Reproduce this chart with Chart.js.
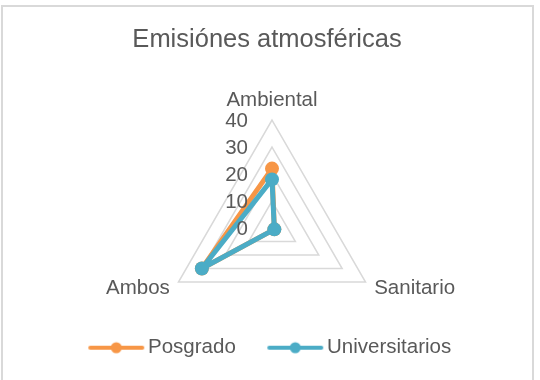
<!DOCTYPE html>
<html>
<head>
<meta charset="utf-8">
<script src="https://cdn.jsdelivr.net/npm/chart.js@4/dist/chart.umd.min.js"></script>
<style>
    body { margin: 0; background: #fff; }
    #frame { position: absolute; left: 1px; top: 5px; width: 529px; height: 400px; border: 2px solid #d9d9d9; }
    #radar-chart { position: absolute; left: 0; top: 0; }
</style>
</head>
<body>
<div id="frame"></div>
<canvas id="radar-chart" width="540" height="380"></canvas>
<script>
const axisLabels = ['Ambiental', 'Sanitario', 'Ambos'];
const posgrado = [22, 1, 30];
const universitarios = [18, 1, 30];
const tickValues = [0, 10, 20, 30, 40];

const textColor = '#595959';
const fontFamily = '"Liberation Sans", Arial, sans-serif';

Chart.defaults.font.family = fontFamily;
Chart.defaults.color = textColor;

// legend sample: a line with a dot, with empty room on the left as the gap between items
function makeSwatch(color) {
    const c = document.createElement('canvas');
    c.width = 100;
    c.height = 14;
    const g = c.getContext('2d');
    g.strokeStyle = color;
    g.lineWidth = 4;
    g.lineCap = 'round';
    g.beginPath();
    g.moveTo(43, 7);
    g.lineTo(95, 7);
    g.stroke();
    g.fillStyle = color;
    g.beginPath();
    g.arc(69, 7, 5.5, 0, Math.PI * 2);
    g.fill();
    return c;
}

// tick numbers left of the vertical axis and the category names at the corners
const axisText = {
    id: 'axisText',
    afterDatasetsDraw(chart) {
        const scale = chart.scales.r;
        const ctx = chart.ctx;
        ctx.save();
        ctx.fillStyle = textColor;
        ctx.font = '20.5px ' + fontFamily;
        ctx.textBaseline = 'middle';
        ctx.textAlign = 'right';
        scale.ticks.forEach(t => {
            const y = scale.yCenter - scale.getDistanceFromCenterForValue(t.value);
            ctx.fillText(String(t.value), scale.xCenter - 24, y + 1);
        });
        chart.data.labels.forEach((label, i) => {
            const p = scale.getPointPosition(i, scale.drawingArea + 10);
            const angle = scale.getIndexAngle(i);
            let y = p.y;
            if (angle === 0) {
                ctx.textAlign = 'center';
                y -= 10;
            } else if (angle < Math.PI) {
                ctx.textAlign = 'left';
                y += 1.5;
            } else {
                ctx.textAlign = 'right';
                y += 1.5;
            }
            ctx.fillText(label, p.x, y);
        });
        ctx.restore();
    }
};

// small horizontal nudges of title and legend
const nudge = {
    id: 'nudge',
    afterLayout(chart) {
        chart.titleBlock.left -= 5;
        chart.titleBlock.right -= 5;
        chart.legend.left -= 18;
        chart.legend.right -= 18;
    }
};

const ctx = document.getElementById('radar-chart').getContext('2d');

const radarChart = new Chart(ctx, {
    type: 'radar',
    data: {
        labels: axisLabels,
        datasets: [{
            label: 'Posgrado',
            data: posgrado,
            borderColor: '#F79646',
            backgroundColor: '#F79646',
            pointBackgroundColor: '#F79646',
            borderWidth: 5,
            borderJoinStyle: 'round',
            pointRadius: 7,
            pointBorderWidth: 0,
            fill: false,
            order: 1
        }, {
            label: 'Universitarios',
            data: universitarios,
            borderColor: '#4BACC6',
            backgroundColor: '#4BACC6',
            pointBackgroundColor: '#4BACC6',
            borderWidth: 5,
            borderJoinStyle: 'round',
            pointRadius: 7,
            pointBorderWidth: 0,
            fill: false,
            order: 0
        }]
    },
    options: {
        responsive: false,
        animation: false,
        events: [],
        layout: {
            padding: { left: 4, right: 0, top: 0, bottom: 12 }
        },
        scales: {
            r: {
                min: tickValues[0],
                max: tickValues[tickValues.length - 1],
                ticks: { display: false, stepSize: tickValues[1] - tickValues[0] },
                pointLabels: { display: false },
                angleLines: { display: false },
                grid: { color: '#d9d9d9', lineWidth: 1.5 }
            }
        },
        plugins: {
            title: {
                display: true,
                text: 'Emisiónes atmosféricas',
                color: textColor,
                font: { size: 25.5, weight: 'normal' },
                padding: { top: 25, bottom: 64 }
            },
            legend: {
                position: 'bottom',
                labels: {
                    usePointStyle: true,
                    pointStyleWidth: 81,
                    padding: 0,
                    color: textColor,
                    font: { size: 20.5 },
                    generateLabels(chart) {
                        return chart.data.datasets.map((ds, i) => ({
                            text: ds.label,
                            datasetIndex: i,
                            pointStyle: makeSwatch(ds.borderColor),
                            fillStyle: ds.borderColor,
                            strokeStyle: ds.borderColor,
                            lineWidth: 0,
                            fontColor: textColor,
                            hidden: false
                        }));
                    }
                }
            },
            tooltip: { enabled: false }
        }
    },
    plugins: [axisText, nudge]
});
</script>
</body>
</html>
